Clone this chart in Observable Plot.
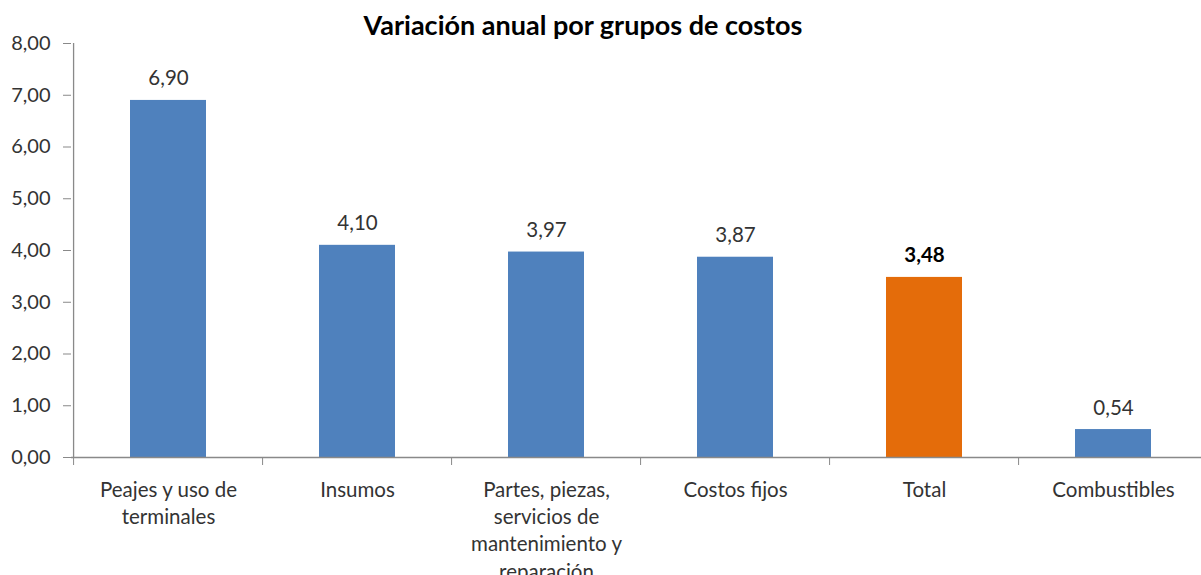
<!DOCTYPE html>
<html>
<head>
<meta charset="utf-8">
<script src="https://cdn.jsdelivr.net/npm/d3@7"></script>
<script src="https://cdn.jsdelivr.net/npm/@observablehq/plot@0.6"></script>
<style>
  html, body { margin: 0; padding: 0; background: #fff; }
  #wrap { position: relative; width: 1201px; height: 575px; overflow: hidden; }
  #title { position: absolute; left: 0; width: 1166px; top: 10px; text-align: center;
    font-family: Lato, "Liberation Sans", sans-serif; font-weight: bold; font-size: 27px; color: #000; line-height: 30px; }
</style>
</head>
<body>
<div id="wrap">
  <div id="chart"></div>
  <div id="title">Variación anual por grupos de costos</div>
</div>
<script>
const categories = ["Peajes y uso de terminales", "Insumos", "Partes, piezas, servicios de mantenimiento y reparación", "Costos fijos", "Total", "Combustibles"];
const tickLabels = ["Peajes y uso de\nterminales", "Insumos", "Partes, piezas,\nservicios de\nmantenimiento y\nreparación", "Costos fijos", "Total", "Combustibles"];
const values = [6.90, 4.10, 3.97, 3.87, 3.48, 0.54];
const highlighted = ["Total"];
const yTicks = [0, 1, 2, 3, 4, 5, 6, 7, 8];

const data = categories.map((c, i) => ({cat: c, label: tickLabels[i], value: values[i], hi: highlighted.includes(c)}));
const fmt = d => d.toFixed(2).replace(".", ",");
const labelOf = Object.fromEntries(categories.map((c, i) => [c, tickLabels[i]]));

const xRange = [71, 1210];
const step = (xRange[1] - xRange[0]) / categories.length;
const gray = "#898989";
const textColor = "#333333";
const font = "Lato, 'Liberation Sans', sans-serif";

const chart = Plot.plot({
  width: 1201,
  height: 575,
  marginTop: 43,
  marginBottom: 118,
  marginLeft: 71,
  marginRight: 0,
  style: {fontFamily: font, background: "white", color: textColor},
  x: {type: "band", domain: categories, range: xRange, paddingInner: 0.6, paddingOuter: 0.3},
  y: {domain: [0, 8]},
  marks: [
    Plot.barY(data, {x: "cat", y: "value", fill: d => d.hi ? "#E46C0A" : "#4F81BD"}),
    Plot.ruleY([0], {stroke: gray, strokeWidth: 1.3}),
    Plot.ruleX([categories[0]], {dx: -step / 2, y1: 0, y2: 8, stroke: gray, strokeWidth: 1.3}),
    Plot.axisY({ticks: yTicks, tickSize: 8, tickPadding: 13, tickFormat: fmt, fontSize: 20, stroke: gray, fill: textColor, label: null}),
    Plot.axisX({tickSize: 8, dx: -step / 2, tickFormat: () => "", stroke: gray, label: null}),
    Plot.axisX({tickSize: 0, tickPadding: 20, tickFormat: d => labelOf[d], fontSize: 20.5, lineHeight: 1.33, fill: textColor, label: null}),
    Plot.text(data.filter(d => !d.hi), {x: "cat", y: "value", text: d => fmt(d.value), lineAnchor: "bottom", dy: -15, fontSize: 20.5, fill: textColor}),
    Plot.text(data.filter(d => d.hi), {x: "cat", y: "value", text: d => fmt(d.value), lineAnchor: "bottom", dy: -15, fontSize: 20.5, fontWeight: "bold", fill: "#000"})
  ]
});
document.getElementById("chart").appendChild(chart);
</script>
</body>
</html>
